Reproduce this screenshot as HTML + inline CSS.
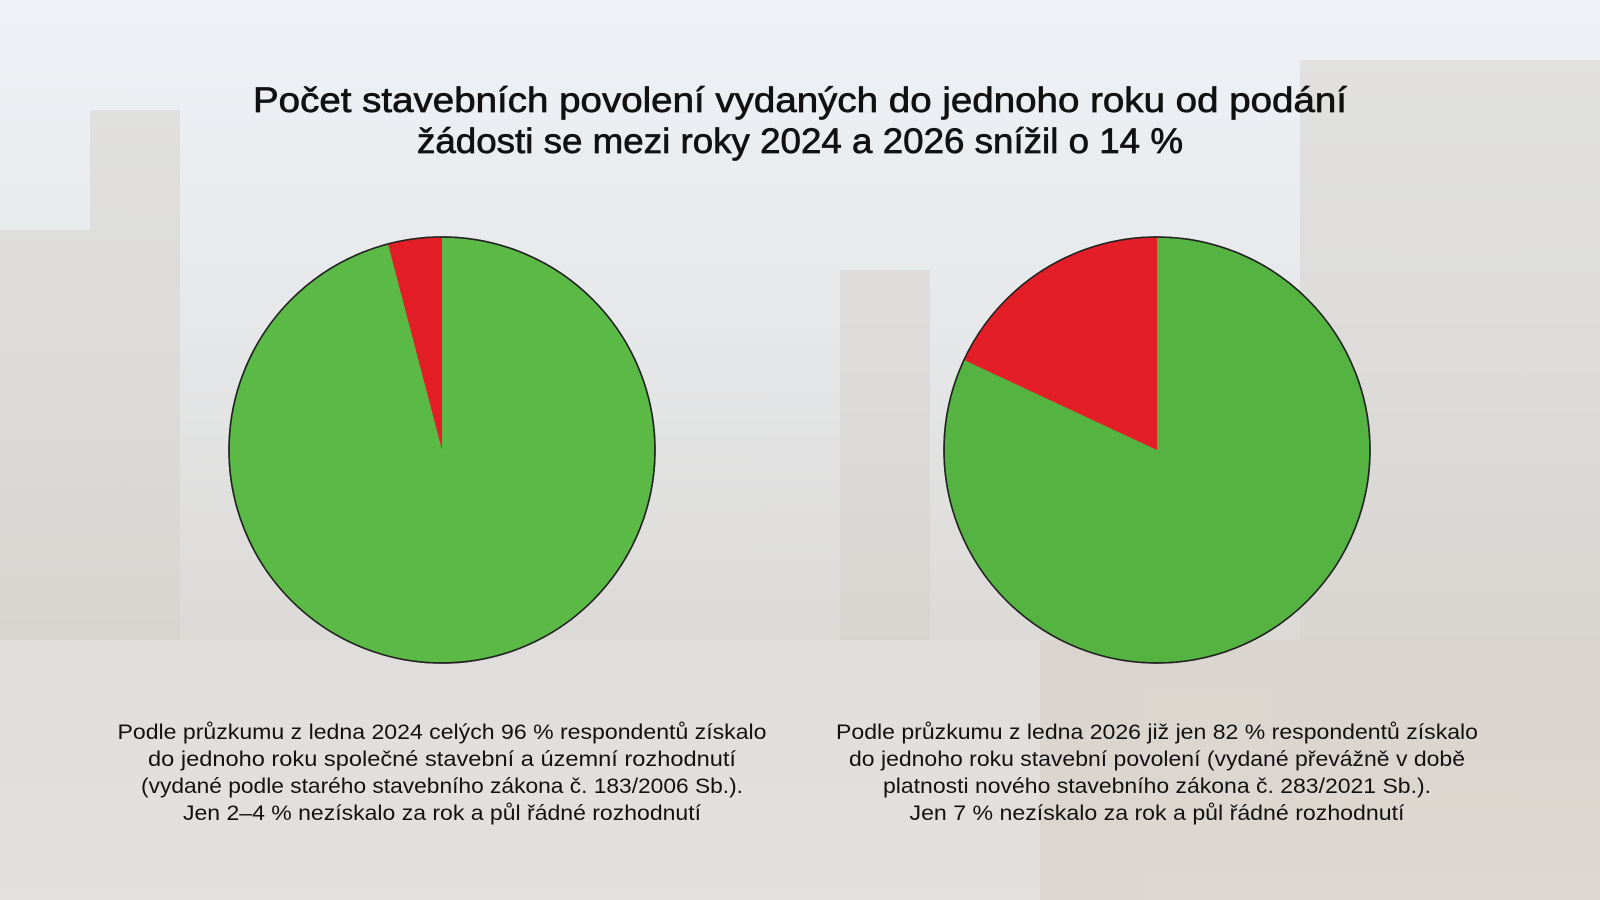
<!DOCTYPE html>
<html><head><meta charset="utf-8"><style>
html,body{margin:0;padding:0;width:1600px;height:900px;overflow:hidden}
</style></head><body>
<svg width="1600" height="900" viewBox="0 0 1600 900" xmlns="http://www.w3.org/2000/svg">
<defs>
<linearGradient id="bg" x1="0" y1="0" x2="0" y2="1">
<stop offset="0" stop-color="#eef2f6"/>
<stop offset="0.35" stop-color="#e6e8ea"/>
<stop offset="0.7" stop-color="#dcdad7"/>
<stop offset="1" stop-color="#e2e0de"/>
</linearGradient>
</defs>
<rect width="1600" height="900" fill="url(#bg)"/>
<g fill="#d6d2cc" opacity="0.5">
<rect x="0" y="230" width="130" height="420"/>
<rect x="90" y="110" width="90" height="560"/>
<rect x="840" y="270" width="90" height="420"/>
<rect x="1300" y="60" width="300" height="640"/>
<rect x="1040" y="640" width="560" height="260" fill="#d9cfc6"/>
<rect x="0" y="640" width="1040" height="260" fill="#e4e2df"/>
</g>
<g stroke="#222" stroke-width="1.5">
<circle cx="442" cy="450" r="213" fill="#5bb946"/>
<path d="M442,450 L442,237 A213,213 0 0 0 388,244 Z" fill="#e31e26" stroke="none"/>
<circle cx="442" cy="450" r="213" fill="none"/>
<circle cx="1157" cy="450" r="213" fill="#55b342"/>
<path d="M1157,450 L1157,237 A213,213 0 0 0 964,360 Z" fill="#e31e26" stroke="none"/>
<circle cx="1157" cy="450" r="213" fill="none"/>
</g>
<g font-family="Liberation Sans, sans-serif" fill="#111" text-anchor="middle">
<g stroke="#111" stroke-width="0.7">
<text x="800" y="112" font-size="35" textLength="1094" lengthAdjust="spacingAndGlyphs">Počet stavebních povolení vydaných do jednoho roku od podání</text>
<text x="800" y="153" font-size="35" textLength="766" lengthAdjust="spacingAndGlyphs">žádosti se mezi roky 2024 a 2026 snížil o 14 %</text>
</g>
<g font-size="21">
<text x="442" y="739" textLength="649" lengthAdjust="spacingAndGlyphs">Podle průzkumu z ledna 2024 celých 96 % respondentů získalo</text>
<text x="442" y="766" textLength="588" lengthAdjust="spacingAndGlyphs">do jednoho roku společné stavební a územní rozhodnutí</text>
<text x="442" y="793" textLength="602" lengthAdjust="spacingAndGlyphs">(vydané podle starého stavebního zákona č. 183/2006 Sb.).</text>
<text x="442" y="820" textLength="518" lengthAdjust="spacingAndGlyphs">Jen 2–4 % nezískalo za rok a půl řádné rozhodnutí</text>
<text x="1157" y="739" textLength="642" lengthAdjust="spacingAndGlyphs">Podle průzkumu z ledna 2026 již jen 82 % respondentů získalo</text>
<text x="1157" y="766" textLength="616" lengthAdjust="spacingAndGlyphs">do jednoho roku stavební povolení (vydané převážně v době</text>
<text x="1157" y="793" textLength="548" lengthAdjust="spacingAndGlyphs">platnosti nového stavebního zákona č. 283/2021 Sb.).</text>
<text x="1157" y="820" textLength="495" lengthAdjust="spacingAndGlyphs">Jen 7 % nezískalo za rok a půl řádné rozhodnutí</text>
</g>
</g>
</svg>
</body></html>
